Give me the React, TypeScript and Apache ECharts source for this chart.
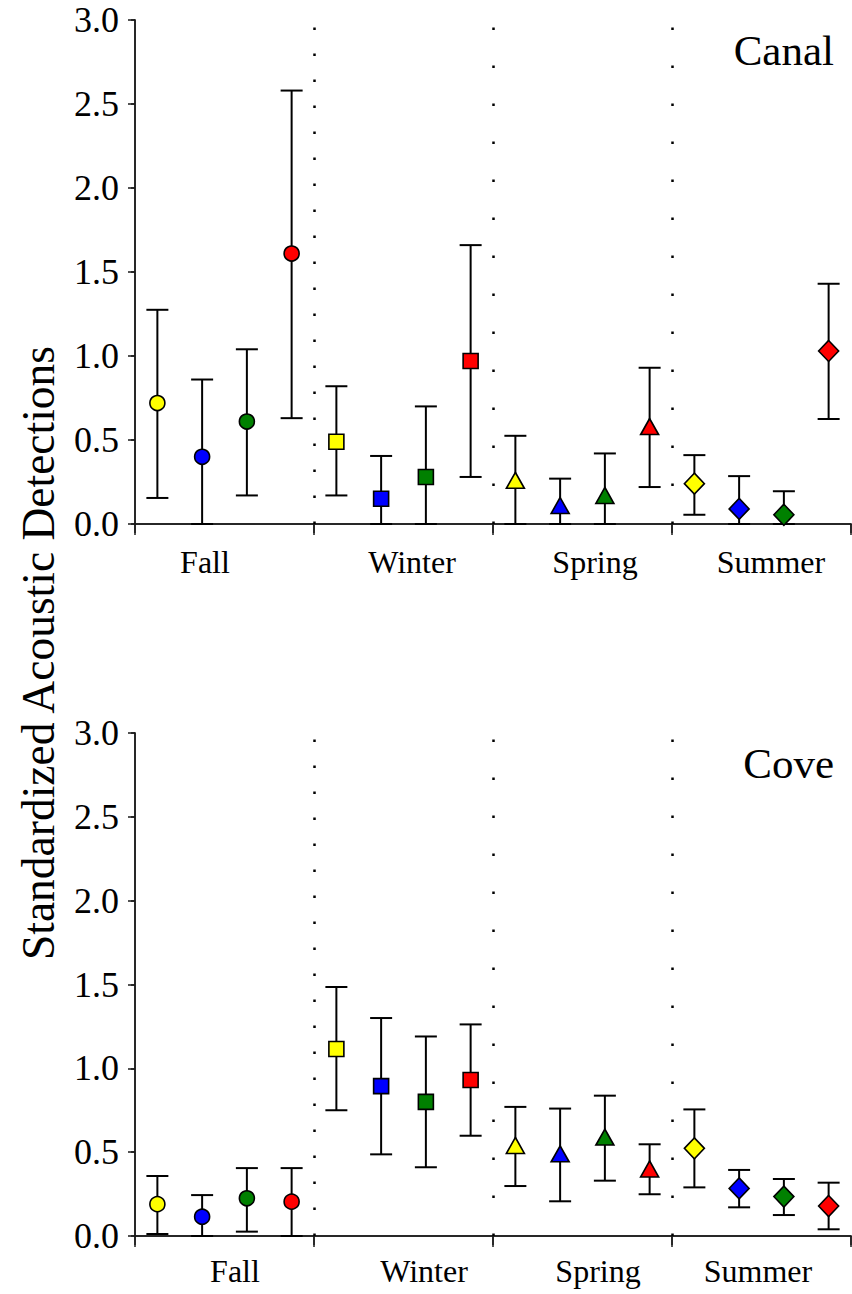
import React, { useEffect, useRef } from "react";
import * as echarts from "echarts";

// ---- data ----
const seasons = ["Fall", "Winter", "Spring", "Summer"];
const seasonSymbols = ["circle", "rect", "triangle", "diamond"];
const groupColors = ["#FFFF00", "#0000FF", "#008000", "#FF0000"];
const positions = [0.5, 1.5, 2.5, 3.5, 4.5, 5.5, 6.5, 7.5, 8.5, 9.5, 10.5, 11.5, 12.5, 13.5, 14.5, 15.5];
const yTickLabels = ["0.0", "0.5", "1.0", "1.5", "2.0", "2.5", "3.0"];
const separators = [4, 8, 12];

const canalMean = [0.72, 0.40, 0.61, 1.61, 0.49, 0.15, 0.28, 0.97, 0.26, 0.11, 0.17, 0.58, 0.24, 0.09, 0.055, 1.03];
const canalLow = [0.155, 0, 0.17, 0.63, 0.17, 0, 0, 0.28, 0, 0, 0, 0.22, 0.055, 0, 0, 0.625];
const canalHigh = [1.275, 0.86, 1.04, 2.58, 0.82, 0.405, 0.70, 1.66, 0.525, 0.27, 0.42, 0.93, 0.41, 0.285, 0.195, 1.43];

const coveMean = [0.19, 0.115, 0.225, 0.205, 1.115, 0.894, 0.80, 0.93, 0.54, 0.49, 0.59, 0.40, 0.523, 0.284, 0.235, 0.179];
const coveLow = [0.012, 0, 0.026, 0, 0.75, 0.487, 0.41, 0.598, 0.298, 0.207, 0.33, 0.249, 0.29, 0.171, 0.125, 0.04];
const coveHigh = [0.358, 0.244, 0.405, 0.405, 1.485, 1.30, 1.19, 1.262, 0.77, 0.76, 0.837, 0.547, 0.755, 0.394, 0.34, 0.318];

const panelTitles = ["Canal", "Cove"];
const yTitle = "Standardized Acoustic Detections";

const FONT = "'Liberation Serif', 'Times New Roman', serif";
const AXIS_COLOR = "#1a1a1a";

function symbolSizeFor(symbol: string) {
  if (symbol === "triangle") return [18, 16];
  if (symbol === "diamond") return [20, 21];
  return 15;
}

function buildPanel(idx: number, mean: number[], low: number[], high: number[]) {
  const errData = positions.map((x, i) => [x, low[i], high[i]]);
  const ptData = positions.map((x, i) => {
    const season = Math.floor(i / 4);
    const sym = seasonSymbols[season];
    return {
      value: [x, mean[i]],
      symbol: sym,
      symbolSize: symbolSizeFor(sym),
      itemStyle: { color: groupColors[i % 4], borderColor: "#000", borderWidth: 1.6, opacity: 1 },
    };
  });
  return [
    {
      type: "custom",
      xAxisIndex: idx * 2,
      yAxisIndex: idx * 2,
      encode: { x: 0, y: [1, 2] },
      data: errData,
      z: 2,
      silent: true,
      renderItem: (params: any, api: any) => {
        const x = api.value(0);
        const lo = api.value(1);
        const hi = api.value(2);
        const pLo = api.coord([x, lo]);
        const pHi = api.coord([x, hi]);
        const hw = 11;
        const style = { stroke: "#000", lineWidth: 2, fill: "none" };
        return {
          type: "group",
          children: [
            { type: "line", shape: { x1: pLo[0], y1: pLo[1], x2: pHi[0], y2: pHi[1] }, style },
            { type: "line", shape: { x1: pHi[0] - hw, y1: pHi[1], x2: pHi[0] + hw, y2: pHi[1] }, style },
            { type: "line", shape: { x1: pLo[0] - hw, y1: pLo[1], x2: pLo[0] + hw, y2: pLo[1] }, style },
          ],
        };
      },
    },
    {
      type: "scatter",
      xAxisIndex: idx * 2,
      yAxisIndex: idx * 2,
      data: ptData,
      z: 5,
      silent: true,
      itemStyle: { opacity: 1 },
      markLine: {
        silent: true,
        symbol: "none",
        label: { show: false },
        animation: false,
        data: separators.map((s, k) => ({
          xAxis: s,
          lineStyle: { color: "#000", width: 2.5, opacity: 1, type: k === 0 ? [2.5, 23.5] : [2.5, 35.5] },
        })),
      },
    },
  ];
}

export default function App() {
  const ref = useRef<HTMLDivElement>(null);

  useEffect(() => {
    if (!ref.current) return;
    const chart = echarts.init(ref.current, undefined, { renderer: "svg" });

    const grids = [
      { left: 135, right: 1, top: 20, height: 504 },
      { left: 135, right: 1, top: 733, height: 503 },
    ];

    const xAxes: any[] = [];
    const yAxes: any[] = [];
    grids.forEach((_, gi) => {
      xAxes.push({
        type: "value",
        gridIndex: gi,
        position: "bottom",
        min: 0,
        max: 16,
        interval: 4,
        axisLine: { show: true, lineStyle: { color: AXIS_COLOR, width: 1.5 } },
        axisTick: { show: true, inside: false, length: 9, lineStyle: { color: AXIS_COLOR, width: 1.5 } },
        axisLabel: { show: false },
        splitLine: { show: false },
      });
      xAxes.push({
        type: "value",
        gridIndex: gi,
        position: "top",
        min: 0,
        max: 16,
        interval: 4,
        axisLine: { show: true, lineStyle: { color: AXIS_COLOR, width: 1.5 } },
        axisTick: { show: true, inside: true, length: 11, lineStyle: { color: AXIS_COLOR, width: 1.5 } },
        axisLabel: { show: false },
        splitLine: { show: false },
      });
      yAxes.push({
        type: "value",
        gridIndex: gi,
        position: "left",
        min: 0,
        max: 3,
        interval: 0.5,
        axisLine: { show: true, lineStyle: { color: AXIS_COLOR, width: 1.5 } },
        axisTick: { show: true, inside: false, length: 7, lineStyle: { color: AXIS_COLOR, width: 1.5 } },
        axisLabel: {
          show: true,
          margin: 16,
          color: "#000",
          fontFamily: FONT,
          fontSize: 36,
          formatter: (v: number) => yTickLabels[Math.round(v / 0.5)],
        },
        splitLine: { show: false },
      });
      yAxes.push({
        type: "value",
        gridIndex: gi,
        position: "right",
        min: 0,
        max: 3,
        interval: 0.5,
        axisLine: { show: true, lineStyle: { color: AXIS_COLOR, width: 1.5 } },
        axisTick: { show: true, inside: true, length: 4, lineStyle: { color: AXIS_COLOR, width: 1.5 } },
        axisLabel: { show: false },
        splitLine: { show: false },
      });
    });

    const seasonLabelCenters = [
      [205, 412, 595, 771],
      [235, 424, 598, 758],
    ];
    const seasonBaselines = [573, 1282];
    const titleBaselines = [65, 778];

    const graphics: any[] = [];
    seasonLabelCenters.forEach((row, gi) => {
      row.forEach((cx, si) => {
        graphics.push({
          type: "text",
          x: cx,
          y: seasonBaselines[gi] - 11,
          silent: true,
          style: {
            text: seasons[si],
            fontFamily: FONT,
            fontSize: 32,
            fill: "#000",
            align: "center",
            verticalAlign: "middle",
          },
        });
      });
      graphics.push({
        type: "text",
        x: 834,
        y: titleBaselines[gi] - 14.5,
        silent: true,
        style: {
          text: panelTitles[gi],
          fontFamily: FONT,
          fontSize: 43,
          fill: "#000",
          align: "right",
          verticalAlign: "middle",
        },
      });
    });
    graphics.push({
      type: "text",
      x: 38,
      y: 653,
      rotation: Math.PI / 2,
      silent: true,
      style: {
        text: yTitle,
        fontFamily: FONT,
        fontSize: 45.5,
        fill: "#000",
        align: "center",
        verticalAlign: "middle",
      },
    });

    chart.setOption({
      animation: false,
      backgroundColor: "#fff",
      grid: grids,
      xAxis: xAxes,
      yAxis: yAxes,
      series: [
        ...buildPanel(0, canalMean, canalLow, canalHigh),
        ...buildPanel(1, coveMean, coveLow, coveHigh),
      ],
      graphic: graphics,
    });

    return () => chart.dispose();
  }, []);

  return (
    <div
      ref={ref}
      style={{ position: "absolute", left: 0, top: 0, width: 852, height: 1294, background: "#fff" }}
    />
  );
}
